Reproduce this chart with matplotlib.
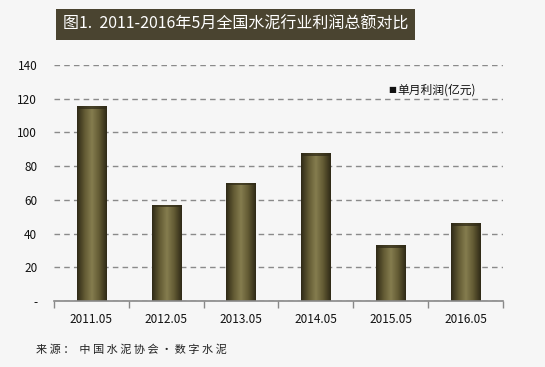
import numpy as np
import matplotlib.pyplot as plt
from matplotlib.colors import LinearSegmentedColormap
from matplotlib.patches import Rectangle

plt.rcParams['font.family'] = ['Noto Sans CJK SC', 'DejaVu Sans']

# 데이터
years = ['2011.05', '2012.05', '2013.05', '2014.05', '2015.05', '2016.05']
profit = [115.5, 57, 70, 87.5, 33, 46]
yticks = [0, 20, 40, 60, 80, 100, 120, 140]
ytick_labels = ['-', '20', '40', '60', '80', '100', '120', '140']

bg = '#f6f6f6'
fig = plt.figure(figsize=(5.45, 3.67), dpi=100, facecolor=bg)
ax = fig.add_axes([0.099, 0.180, 0.824, 0.643], facecolor=bg)

x = np.arange(len(years))
bars = ax.bar(x, profit, width=0.39, color='#6e6540', zorder=2)

# 막대 그라데이션 (가장자리 어둡게)
cmap = LinearSegmentedColormap.from_list('bar', ['#2f2a17', '#625a33', '#857d4f', '#625a33', '#2f2a17'])
grad = np.linspace(0, 1, 64).reshape(1, -1)
for b in bars:
    bx, bw, bh = b.get_x(), b.get_width(), b.get_height()
    im = ax.imshow(grad, cmap=cmap, aspect='auto', extent=[bx, bx + bw, 0, bh], zorder=3)
    im.set_clip_path(b)
    # 위쪽 어두운 테두리
    ax.add_patch(Rectangle((bx, bh - 1.5), bw, 1.5, color='#2f2a17', alpha=0.7, zorder=4, lw=0))

ax.set_xlim(-0.5, len(years) - 0.5)
ax.set_ylim(0, 140)
ax.set_yticks(yticks)
ax.set_yticklabels(ytick_labels, fontsize=8.5, color='#111111')
ax.yaxis.grid(True, linestyle=(0, (4, 3)), color='#8a8a8a', lw=1.0)
ax.set_axisbelow(True)
ax.tick_params(axis='y', length=0, pad=12)

# x축: 경계에 눈금
ax.set_xticks(np.arange(len(years) + 1) - 0.5)
ax.set_xticklabels([])
ax.set_xticks(x, minor=True)
ax.set_xticklabels(years, minor=True, fontsize=8.5, color='#111111')
ax.tick_params(axis='x', which='major', length=5, color='#888888', width=1)
ax.tick_params(axis='x', which='minor', length=0, pad=9)

for s in ['top', 'right', 'left']:
    ax.spines[s].set_visible(False)
ax.spines['bottom'].set_color('#888888')
ax.spines['bottom'].set_linewidth(1.2)
ax.spines['bottom'].set_zorder(5)

# 범례
ax.text(0.745, 0.895, '■', transform=ax.transAxes, fontsize=6, color='#111111',
        va='center', family=['DejaVu Sans'])
ax.text(0.765, 0.895, '单月利润(亿元)', transform=ax.transAxes, fontsize=8.5,
        color='#111111', va='center')

# 제목 상자
fig.patches.append(Rectangle((56 / 545, 1 - 40 / 367), 359 / 545, 31 / 367,
                             transform=fig.transFigure, facecolor='#4a4430',
                             edgecolor='none', zorder=0))
fig.text(236 / 545, 1 - 24.5 / 367, '图1.  2011-2016年5月全国水泥行业利润总额对比',
         ha='center', va='center', fontsize=11.5, color='white')

# 출처
fig.text(36 / 545, 1 - 350 / 367, '来 源 ：  中 国 水 泥 协 会 · 数 字 水 泥',
         ha='left', va='center', fontsize=8, color='#222222')

plt.savefig('out.png', dpi=100, facecolor=bg)
